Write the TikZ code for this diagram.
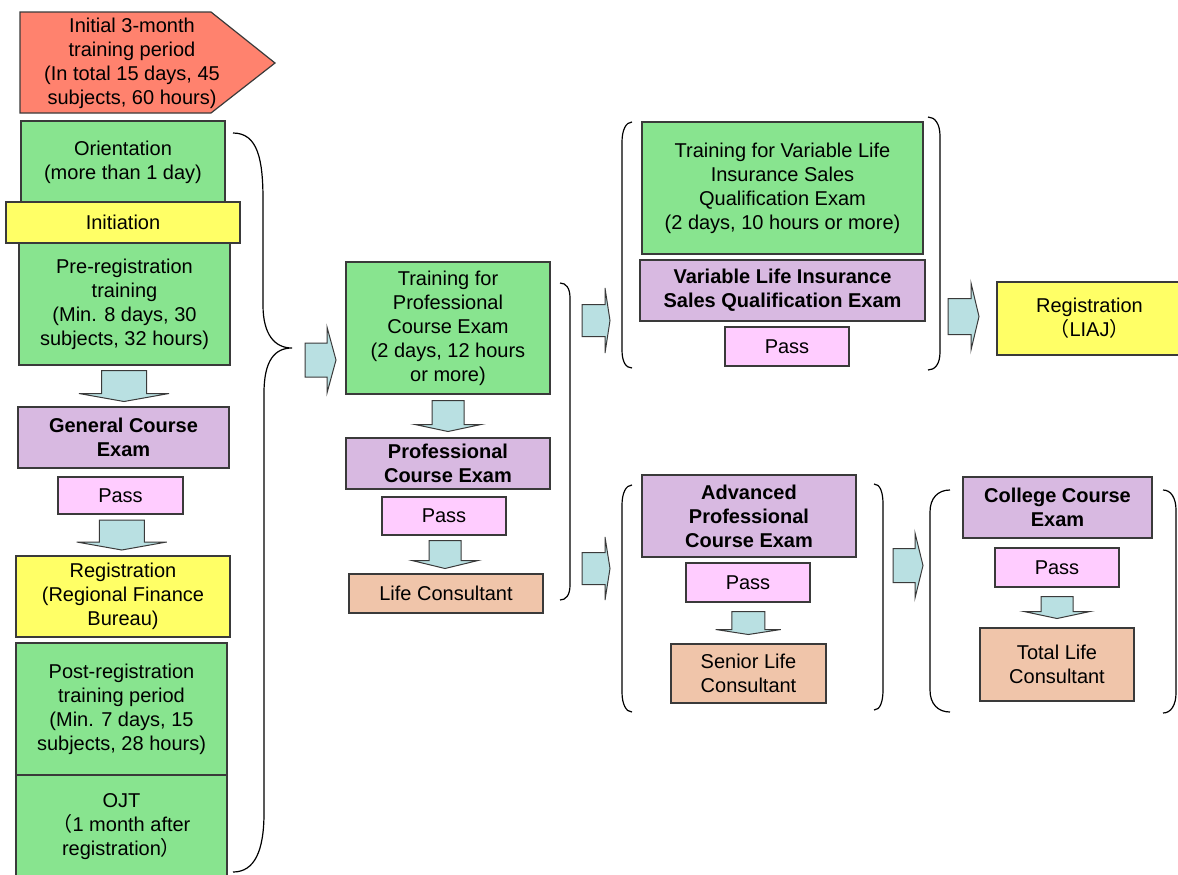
\documentclass[tikz,border=0pt]{standalone}
\usepackage{fontspec}
\setmainfont{Liberation Sans}
\newfontfamily\cjk{Noto Sans CJK JP}
\usetikzlibrary{calc}
\definecolor{FlowSalmon}{HTML}{FF826E}
\definecolor{FlowGreen}{HTML}{88E48F}
\definecolor{FlowYellow}{HTML}{FFFF66}
\definecolor{FlowPurple}{HTML}{D8B9E1}
\definecolor{FlowPink}{HTML}{FFCCFF}
\definecolor{FlowPeach}{HTML}{F0C5AA}
\definecolor{FlowArrow}{HTML}{B9E0E2}
\definecolor{FlowLine}{HTML}{3A3A3A}

\tikzset{
  box/.style={draw=FlowLine,line width=0.6pt,inner sep=0pt,outer sep=0pt,align=center},
  trainbox/.style={box,fill=FlowGreen},
  regbox/.style={box,fill=FlowYellow},
  exambox/.style={box,fill=FlowPurple,font=\fontsize{10}{12}\selectfont\bfseries},
  passbox/.style={box,fill=FlowPink},
  titlebox/.style={box,fill=FlowPeach},
  arrowbox/.style={draw=FlowLine,line width=0.5pt,fill=FlowArrow},
  bracket/.style={draw=black,line width=0.6pt},
  pics/downarr/.style n args={4}{code={
    \draw[arrowbox] (-#2,-#1) -- (#2,-#1) -- (#2,#1-#4) -- (#3,#1-#4)
      -- (0,#1) -- (-#3,#1-#4) -- (-#2,#1-#4) -- cycle;}},
  pics/rightarr/.style n args={4}{code={
    \draw[arrowbox] (-#1,-#2) -- (#1-#4,-#2) -- (#1-#4,-#3) -- (#1,0)
      -- (#1-#4,#3) -- (#1-#4,#2) -- (-#1,#2) -- cycle;}}
}

\begin{document}
\begin{tikzpicture}[x=0.5pt,y=-0.5pt,font=\fontsize{10}{12}\selectfont]
  \useasboundingbox (0,0) rectangle (1178,874);

  % left column: initial training period
  \draw[box,fill=FlowSalmon] (20,12) -- (211,12) -- (275,63) -- (211,113) -- (20,113) -- cycle;
  \node[align=center] (init) at (132,63)
    {Initial 3-month\\training period\\(In total 15 days, 45\\subjects, 60 hours)};
  \node[trainbox,minimum width=102pt,minimum height=41pt] (orient) at (123,162)
    {Orientation\\(more than 1 day)};
  \node[trainbox,minimum width=105.5pt,minimum height=61pt] (pre) at (124.5,304)
    {Pre-registration\\training\\(Min. 8 days, 30\\subjects, 32 hours)};
  \node[regbox,minimum width=117pt,minimum height=20.5pt] (initn) at (123,222.5) {Initiation};
  \node[exambox,minimum width=105.5pt,minimum height=30.5pt] (gce) at (123.5,437.5)
    {General Course\\Exam};
  \node[passbox,minimum width=62.5pt,minimum height=18.5pt] (pass1) at (120.5,495.5) {Pass};
  \node[regbox,minimum width=107pt,minimum height=40.5pt] (reg1) at (123,596.5)
    {Registration\\(Regional Finance\\Bureau)};
  \node[trainbox,minimum width=105.5pt,minimum height=66pt] (post) at (121.5,709)
    {Post-registration\\training period\\(Min. 7 days, 15\\subjects, 28 hours)};
  \node[trainbox,minimum width=105.5pt,minimum height=52pt] (ojt) at (121.5,827)
    {OJT\\{\cjk （}1 month after\\registration{\cjk ）}};
  \pic at ($(pre.south)!.5!(gce.north)$) {downarr={15.5}{22.5}{45}{8}};
  \pic at ($(pass1.south)!.5!(reg1.north)$) {downarr={15}{22.5}{45}{8}};

  % brace around the initial period
  \draw[bracket] (233,133) .. controls (258,133) and (263,160) .. (263,200) -- (263,305)
    .. controls (263,335) and (275,348) .. (292,348)
    .. controls (275,348) and (264,360) .. (264,393) -- (264,813)
    .. controls (264,850) and (255,872) .. (233,872);
  \pic at (320.5,360) {rightarr={15.5}{17}{33}{9}};

  % middle column: professional course
  \node[trainbox,minimum width=102pt,minimum height=66pt] (tpc) at (448,328)
    {Training for\\Professional\\Course Exam\\(2 days, 12 hours\\or more)};
  \node[exambox,minimum width=102pt,minimum height=25.5pt] (pce) at (448,463.5)
    {Professional\\Course Exam};
  \node[passbox,minimum width=62pt,minimum height=19pt] (pass2) at (444,516) {Pass};
  \node[titlebox,minimum width=97pt,minimum height=19.5pt] (lc) at (446,593.5) {Life Consultant};
  \pic at ($(tpc.south)!.5!(pce.north)$) {downarr={15.5}{16}{33}{7}};
  \pic at ($(pass2.south)!.5!(lc.north)$) {downarr={14}{16}{33}{8}};
  \draw[bracket] (560,283) .. controls (566,283) and (570,288) .. (570,298) -- (570,585)
    .. controls (570,595) and (566,600) .. (560,600);
  \pic at (596,320.5) {rightarr={14}{16}{32.5}{5}};
  \pic at (596,568.5) {rightarr={14}{16}{31.5}{5}};

  % upper right: variable life insurance
  \node[trainbox,minimum width=140.5pt,minimum height=66pt] (tvl) at (782.5,188)
    {Training for Variable Life\\Insurance Sales\\Qualification Exam\\(2 days, 10 hours or more)};
  \node[exambox,minimum width=142.5pt,minimum height=30.5pt] (vle) at (782.5,290.5)
    {Variable Life Insurance\\Sales Qualification Exam};
  \node[passbox,minimum width=62pt,minimum height=19.5pt] (pass3) at (787,346.5) {Pass};
  \draw[bracket] (632,122) .. controls (626,122) and (622,130) .. (622,142) -- (622,350)
    .. controls (622,362) and (626,368) .. (632,368);
  \draw[bracket] (928,117) .. controls (935,117) and (940,124) .. (940,136) -- (940,352)
    .. controls (940,364) and (935,370) .. (928,370);
  \pic at (963.5,316.5) {rightarr={15.5}{18}{33.5}{8}};
  \node[regbox,minimum width=92.5pt,minimum height=36.5pt] (reg2) at (1089.5,318.5)
    {Registration\\{\cjk （}LIAJ{\cjk ）}};

  % lower right: advanced and college course
  \node[exambox,minimum width=107pt,minimum height=41pt] (ape) at (749,516)
    {Advanced\\Professional\\Course Exam};
  \node[passbox,minimum width=62pt,minimum height=19.5pt] (pass4) at (748,582.5) {Pass};
  \node[titlebox,minimum width=77.5pt,minimum height=29.5pt] (slc) at (748.5,673.5)
    {Senior Life\\Consultant};
  \pic at ($(pass4.south)!.5!(slc.north)$) {downarr={11.5}{16.5}{32.5}{5}};
  \draw[bracket] (632,485) .. controls (626,485) and (622,493) .. (622,505) -- (622,692)
    .. controls (622,704) and (626,712) .. (632,712);
  \draw[bracket] (874,484) .. controls (880,484) and (883,492) .. (883,504) -- (883,690)
    .. controls (883,702) and (880,710) .. (874,710);
  \pic at (908,565.5) {rightarr={15}{17}{32.5}{8}};

  \node[exambox,minimum width=94.5pt,minimum height=30.5pt] (cce) at (1057.5,507.5)
    {College Course\\Exam};
  \node[passbox,minimum width=62pt,minimum height=19.5pt] (pass5) at (1057,567.5) {Pass};
  \node[titlebox,minimum width=77pt,minimum height=36.5pt] (tlc) at (1057,664.5)
    {Total Life\\Consultant};
  \pic at ($(pass5.south)!.5!(tlc.north)$) {downarr={11}{16}{33}{7}};
  \draw[bracket] (950,490) .. controls (938,490) and (930,498) .. (930,512) -- (930,690)
    .. controls (930,704) and (938,712) .. (950,712);
  \draw[bracket] (1163,490) .. controls (1171,490) and (1176,498) .. (1176,510) -- (1176,693)
    .. controls (1176,705) and (1171,713) .. (1163,713);
\end{tikzpicture}
\end{document}
